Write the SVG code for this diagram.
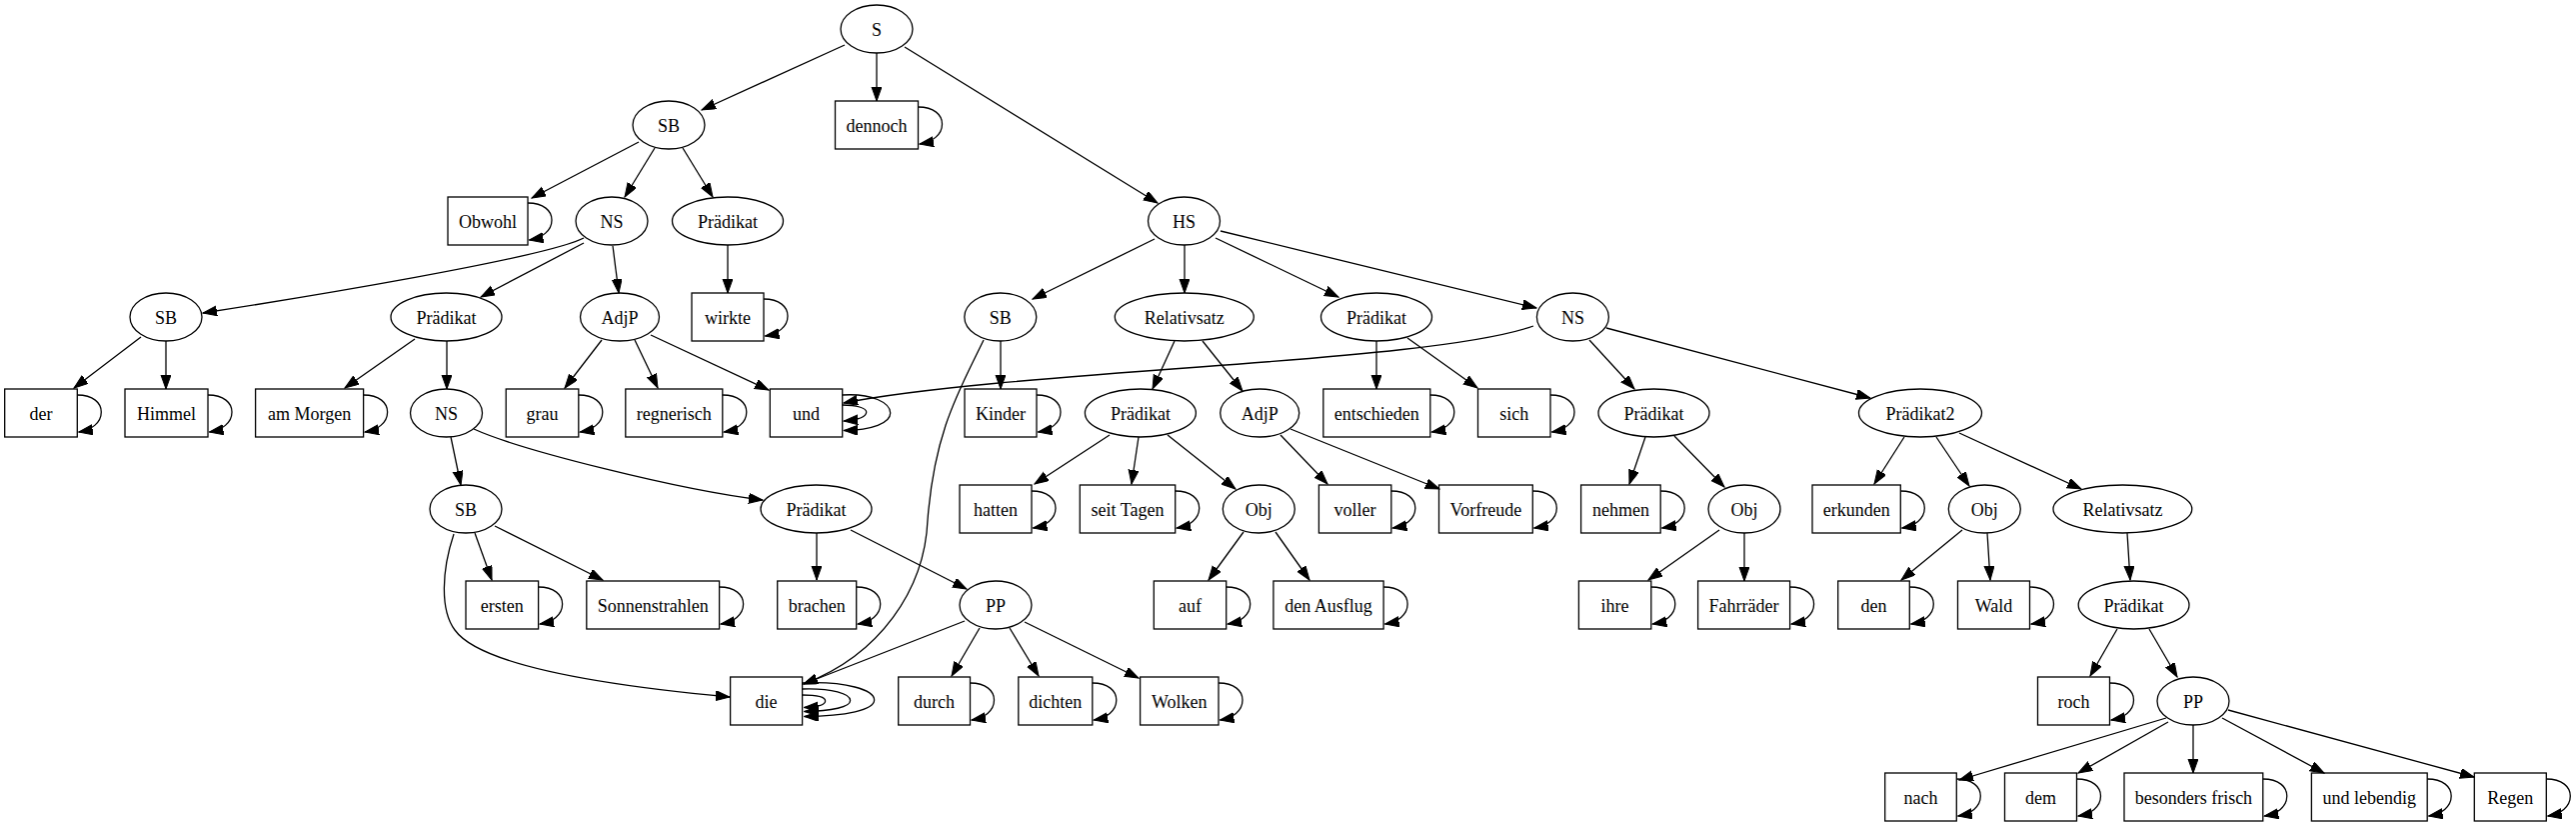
<svg xmlns="http://www.w3.org/2000/svg" width="2577" height="827" viewBox="0 0 2577 827">
<style>
.n ellipse,.n rect{fill:none;stroke:#000;stroke-width:1.3}
text{font-family:"Liberation Serif","Times New Roman",serif;font-size:18px;text-anchor:middle;fill:#000}
#edges path{fill:none;stroke:#000;stroke-width:1.3;marker-end:url(#ah)}
</style>
<defs>
<marker id="ah" markerUnits="userSpaceOnUse" markerWidth="15" markerHeight="11" refX="14" refY="5" orient="auto"><path d="M0,0 L14,5 L0,10 z" fill="#000" stroke="#000" stroke-width="1"/></marker>
</defs>
<rect width="2577" height="827" fill="#fff"/>
<g id="edges">
<path d="M845,45 L702,110"/>
<path d="M877,53 L877,101"/>
<path d="M905,47 L1158,203"/>
<path d="M639,142 L532,198"/>
<path d="M655,148 L625,197"/>
<path d="M683,148 L713,197"/>
<path d="M584,238 C545,258 300,298 203,313"/>
<path d="M584,243 L481,297"/>
<path d="M613,246 L619,293"/>
<path d="M728,245 L728,293"/>
<path d="M1155,239 L1033,299"/>
<path d="M1185,245 L1185,293"/>
<path d="M1216,238 L1339,297"/>
<path d="M1221,231 L1537,308"/>
<path d="M141,337 L74,388"/>
<path d="M166,341 L166,389"/>
<path d="M415,339 L345,388"/>
<path d="M447,341 L447,389"/>
<path d="M602,340 L565,388"/>
<path d="M635,340 L658,388"/>
<path d="M651,335 L769,390"/>
<path d="M1001,341 L1001,389"/>
<path d="M984,340 C960,390 935,430 928,520 C925,590 880,655 804,684"/>
<path d="M1175,341 L1153,389"/>
<path d="M1203,341 L1243,391"/>
<path d="M1377,341 L1377,389"/>
<path d="M1408,338 L1478,388"/>
<path d="M1534,326 C1480,345 1350,356 1200,367 C1050,378 920,388 844,403"/>
<path d="M1590,340 L1635,389"/>
<path d="M1607,328 L1871,398"/>
<path d="M451,437 L461,485"/>
<path d="M474,429 C520,450 680,490 763,500"/>
<path d="M1110,435 L1035,484"/>
<path d="M1139,437 L1132,484"/>
<path d="M1168,435 L1236,489"/>
<path d="M1281,435 L1328,484"/>
<path d="M1291,429 L1440,489"/>
<path d="M1646,437 L1630,484"/>
<path d="M1675,436 L1725,487"/>
<path d="M1905,437 L1875,484"/>
<path d="M1937,437 L1970,486"/>
<path d="M1960,433 L2082,489"/>
<path d="M475,533 L492,580"/>
<path d="M495,526 L603,580"/>
<path d="M454,534 C442,570 440,610 455,630 C480,665 600,685 730,697"/>
<path d="M817,533 L817,580"/>
<path d="M851,530 L967,589"/>
<path d="M1244,532 L1209,580"/>
<path d="M1276,532 L1310,580"/>
<path d="M1720,530 L1649,580"/>
<path d="M1745,533 L1745,581"/>
<path d="M1963,530 L1902,580"/>
<path d="M1988,533 L1991,580"/>
<path d="M2128,533 L2131,580"/>
<path d="M965,621 L804,684"/>
<path d="M980,628 L952,676"/>
<path d="M1010,628 L1039,676"/>
<path d="M1025,622 L1139,678"/>
<path d="M2118,629 L2091,676"/>
<path d="M2150,629 L2178,677"/>
<path d="M2167,718 L1960,780"/>
<path d="M2169,722 L2079,773"/>
<path d="M2194,725 L2194,773"/>
<path d="M2223,718 L2325,773"/>
<path d="M2229,710 L2475,777"/>
<!-- self loops -->
<path d="M528,203 C544,203 552,211 552,220 C552,231 542,238 529.5,240"/>
<path d="M918.5,107 C934.5,107 942.5,115 942.5,124 C942.5,135 932.5,142 920,144"/>
<path d="M764,299 C780,299 788,307 788,316 C788,327 778,334 765.5,336"/>
<path d="M77.3,395 C93.3,395 101.3,403 101.3,412 C101.3,423 91.3,430 78.8,432"/>
<path d="M208,395 C224,395 232,403 232,412 C232,423 222,430 209.5,432"/>
<path d="M363.6,395 C379.6,395 387.6,403 387.6,412 C387.6,423 377.6,430 365.1,432"/>
<path d="M578.8,395 C594.8,395 602.8,403 602.8,412 C602.8,423 592.8,430 580.3,432"/>
<path d="M722.8,395 C738.8,395 746.8,403 746.8,412 C746.8,423 736.8,430 724.3,432"/>
<path d="M842.7,405 C856.7,405 866.7,408 866.7,412 C866.7,417 856.7,420 844.2,421"/>
<path d="M842.7,395 C872.7,393 890.7,403 890.7,413 C890.7,423 872.7,430 844.2,430.5"/>
<path d="M1037,395 C1053,395 1061,403 1061,412 C1061,423 1051,430 1038.5,432"/>
<path d="M1430.8,395 C1446.8,395 1454.8,403 1454.8,412 C1454.8,423 1444.8,430 1432.3,432"/>
<path d="M1551,395 C1567,395 1575,403 1575,412 C1575,423 1565,430 1552.5,432"/>
<path d="M1032,491 C1048,491 1056,499 1056,508 C1056,519 1046,526 1033.5,528"/>
<path d="M1175.7,491 C1191.7,491 1199.7,499 1199.7,508 C1199.7,519 1189.7,526 1177.2,528"/>
<path d="M1391.8,491 C1407.8,491 1415.8,499 1415.8,508 C1415.8,519 1405.8,526 1393.3,528"/>
<path d="M1533.3,491 C1549.3,491 1557.3,499 1557.3,508 C1557.3,519 1547.3,526 1534.8,528"/>
<path d="M1661.2,491 C1677.2,491 1685.2,499 1685.2,508 C1685.2,519 1675.2,526 1662.7,528"/>
<path d="M1901.3,491 C1917.3,491 1925.3,499 1925.3,508 C1925.3,519 1915.3,526 1902.8,528"/>
<path d="M538.6,587 C554.6,587 562.6,595 562.6,604 C562.6,615 552.6,622 540.1,624"/>
<path d="M719.6,587 C735.6,587 743.6,595 743.6,604 C743.6,615 733.6,622 721.1,624"/>
<path d="M856.7,587 C872.7,587 880.7,595 880.7,604 C880.7,615 870.7,622 858.2,624"/>
<path d="M1226.7,587 C1242.7,587 1250.7,595 1250.7,604 C1250.7,615 1240.7,622 1228.2,624"/>
<path d="M1384.1,587 C1400.1,587 1408.1,595 1408.1,604 C1408.1,615 1398.1,622 1385.6,624"/>
<path d="M1651.8,587 C1667.8,587 1675.8,595 1675.8,604 C1675.8,615 1665.8,622 1653.3,624"/>
<path d="M1790.6,587 C1806.6,587 1814.6,595 1814.6,604 C1814.6,615 1804.6,622 1792.1,624"/>
<path d="M1910.3,587 C1926.3,587 1934.3,595 1934.3,604 C1934.3,615 1924.3,622 1911.8,624"/>
<path d="M2030.5,587 C2046.5,587 2054.5,595 2054.5,604 C2054.5,615 2044.5,622 2032,624"/>
<path d="M802.6,695 C816.6,695 825.6,697 825.6,701 C825.6,705 816.6,707 804.6,707.5"/>
<path d="M802.6,689 C832.6,688 850.6,694 850.6,700.5 C850.6,707 832.6,711 804.6,711.5"/>
<path d="M802.6,683 C846.6,681 874.6,690 874.6,700 C874.6,710 846.6,716 804.6,716.5"/>
<path d="M970.5,683 C986.5,683 994.5,691 994.5,700 C994.5,711 984.5,718 972,720"/>
<path d="M1092.8,683 C1108.8,683 1116.8,691 1116.8,700 C1116.8,711 1106.8,718 1094.3,720"/>
<path d="M1219,683 C1235,683 1243,691 1243,700 C1243,711 1233,718 1220.5,720"/>
<path d="M2110.5,683 C2126.5,683 2134.5,691 2134.5,700 C2134.5,711 2124.5,718 2112,720"/>
<path d="M1957.3,779 C1973.3,779 1981.3,787 1981.3,796 C1981.3,807 1971.3,814 1958.8,816"/>
<path d="M2077.5,779 C2093.5,779 2101.5,787 2101.5,796 C2101.5,807 2091.5,814 2079,816"/>
<path d="M2263.8,779 C2279.8,779 2287.8,787 2287.8,796 C2287.8,807 2277.8,814 2265.3,816"/>
<path d="M2428.2,779 C2444.2,779 2452.2,787 2452.2,796 C2452.2,807 2442.2,814 2429.7,816"/>
<path d="M2547.3,779 C2563.3,779 2571.3,787 2571.3,796 C2571.3,807 2561.3,814 2548.8,816"/>
</g>
<g id="S" class="n"><ellipse cx="877" cy="29" rx="36" ry="24"/><text x="877" y="35.5">S</text></g>
<g id="SB1" class="n"><ellipse cx="669" cy="125" rx="36" ry="24"/><text x="669" y="131.5">SB</text></g>
<g id="dennoch" class="n"><rect x="835.5" y="101" width="83" height="48"/><text x="877" y="131.5">dennoch</text></g>
<g id="Obwohl" class="n"><rect x="448" y="197" width="80" height="48"/><text x="488" y="227.5">Obwohl</text></g>
<g id="NS1" class="n"><ellipse cx="612" cy="221" rx="36" ry="24"/><text x="612" y="227.5">NS</text></g>
<g id="Praedikat1" class="n"><ellipse cx="728" cy="221" rx="55.5" ry="24"/><text x="728" y="227.5">Prädikat</text></g>
<g id="HS" class="n"><ellipse cx="1184.5" cy="221" rx="36" ry="24"/><text x="1184.5" y="227.5">HS</text></g>
<g id="SB2" class="n"><ellipse cx="166" cy="317" rx="36" ry="24"/><text x="166" y="323.5">SB</text></g>
<g id="Praedikat2a" class="n"><ellipse cx="446.5" cy="317" rx="55.5" ry="24"/><text x="446.5" y="323.5">Prädikat</text></g>
<g id="AdjP1" class="n"><ellipse cx="620" cy="317" rx="39.5" ry="24"/><text x="620" y="323.5">AdjP</text></g>
<g id="wirkte" class="n"><rect x="692" y="293" width="72" height="48"/><text x="728" y="323.5">wirkte</text></g>
<g id="SB3" class="n"><ellipse cx="1000.8" cy="317" rx="36" ry="24"/><text x="1000.8" y="323.5">SB</text></g>
<g id="Relativsatz1" class="n"><ellipse cx="1184.8" cy="317" rx="69.5" ry="24"/><text x="1184.8" y="323.5">Relativsatz</text></g>
<g id="Praedikat3" class="n"><ellipse cx="1377" cy="317" rx="55.5" ry="24"/><text x="1377" y="323.5">Prädikat</text></g>
<g id="NS2" class="n"><ellipse cx="1573.4" cy="317" rx="36" ry="24"/><text x="1573.4" y="323.5">NS</text></g>
<g id="der" class="n"><rect x="4.7" y="389" width="72.6" height="48"/><text x="41" y="419.5">der</text></g>
<g id="Himmel" class="n"><rect x="125" y="389" width="83" height="48"/><text x="166.5" y="419.5">Himmel</text></g>
<g id="amMorgen" class="n"><rect x="255.6" y="389" width="108" height="48"/><text x="309.6" y="419.5">am Morgen</text></g>
<g id="NS3" class="n"><ellipse cx="446.5" cy="413" rx="36" ry="24"/><text x="446.5" y="419.5">NS</text></g>
<g id="grau" class="n"><rect x="506.2" y="389" width="72.6" height="48"/><text x="542.5" y="419.5">grau</text></g>
<g id="regnerisch" class="n"><rect x="625.8" y="389" width="97" height="48"/><text x="674.3" y="419.5">regnerisch</text></g>
<g id="und" class="n"><rect x="770.3" y="389" width="72.4" height="48"/><text x="806.5" y="419.5">und</text></g>
<g id="Kinder" class="n"><rect x="965" y="389" width="72" height="48"/><text x="1001" y="419.5">Kinder</text></g>
<g id="Praedikat4" class="n"><ellipse cx="1140.9" cy="413" rx="55.5" ry="24"/><text x="1140.9" y="419.5">Prädikat</text></g>
<g id="AdjP2" class="n"><ellipse cx="1260.2" cy="413" rx="39.5" ry="24"/><text x="1260.2" y="419.5">AdjP</text></g>
<g id="entschieden" class="n"><rect x="1323.8" y="389" width="107" height="48"/><text x="1377.3" y="419.5">entschieden</text></g>
<g id="sich" class="n"><rect x="1478.5" y="389" width="72.5" height="48"/><text x="1514.7" y="419.5">sich</text></g>
<g id="Praedikat5" class="n"><ellipse cx="1654.5" cy="413" rx="55.5" ry="24"/><text x="1654.5" y="419.5">Prädikat</text></g>
<g id="Praedikat2" class="n"><ellipse cx="1921" cy="413" rx="61.5" ry="24"/><text x="1921" y="419.5">Prädikat2</text></g>
<g id="SB4" class="n"><ellipse cx="466" cy="509" rx="36" ry="24"/><text x="466" y="515.5">SB</text></g>
<g id="Praedikat6" class="n"><ellipse cx="816.5" cy="509" rx="55.5" ry="24"/><text x="816.5" y="515.5">Prädikat</text></g>
<g id="hatten" class="n"><rect x="960" y="485" width="72" height="48"/><text x="996" y="515.5">hatten</text></g>
<g id="seitTagen" class="n"><rect x="1080.3" y="485" width="95.4" height="48"/><text x="1128" y="515.5">seit Tagen</text></g>
<g id="Obj1" class="n"><ellipse cx="1259.3" cy="509" rx="36" ry="24"/><text x="1259.3" y="515.5">Obj</text></g>
<g id="voller" class="n"><rect x="1319.4" y="485" width="72.4" height="48"/><text x="1355.6" y="515.5">voller</text></g>
<g id="Vorfreude" class="n"><rect x="1439.5" y="485" width="93.8" height="48"/><text x="1486.4" y="515.5">Vorfreude</text></g>
<g id="nehmen" class="n"><rect x="1581.6" y="485" width="79.6" height="48"/><text x="1621.4" y="515.5">nehmen</text></g>
<g id="Obj2" class="n"><ellipse cx="1745" cy="509" rx="36" ry="24"/><text x="1745" y="515.5">Obj</text></g>
<g id="erkunden" class="n"><rect x="1813" y="485" width="88.3" height="48"/><text x="1857.2" y="515.5">erkunden</text></g>
<g id="Obj3" class="n"><ellipse cx="1985.3" cy="509" rx="36" ry="24"/><text x="1985.3" y="515.5">Obj</text></g>
<g id="Relativsatz2" class="n"><ellipse cx="2123.4" cy="509" rx="69.4" ry="24"/><text x="2123.4" y="515.5">Relativsatz</text></g>
<g id="ersten" class="n"><rect x="466" y="581" width="72.6" height="48"/><text x="502.3" y="611.5">ersten</text></g>
<g id="Sonnenstrahlen" class="n"><rect x="586.8" y="581" width="132.8" height="48"/><text x="653.2" y="611.5">Sonnenstrahlen</text></g>
<g id="brachen" class="n"><rect x="777.7" y="581" width="79" height="48"/><text x="817.2" y="611.5">brachen</text></g>
<g id="PP1" class="n"><ellipse cx="996" cy="605" rx="36" ry="24"/><text x="996" y="611.5">PP</text></g>
<g id="auf" class="n"><rect x="1154.3" y="581" width="72.4" height="48"/><text x="1190.5" y="611.5">auf</text></g>
<g id="denAusflug" class="n"><rect x="1273.9" y="581" width="110.2" height="48"/><text x="1329" y="611.5">den Ausflug</text></g>
<g id="ihre" class="n"><rect x="1579.4" y="581" width="72.4" height="48"/><text x="1615.6" y="611.5">ihre</text></g>
<g id="Fahrraeder" class="n"><rect x="1698.6" y="581" width="92" height="48"/><text x="1744.6" y="611.5">Fahrräder</text></g>
<g id="den" class="n"><rect x="1838.7" y="581" width="71.6" height="48"/><text x="1874.5" y="611.5">den</text></g>
<g id="Wald" class="n"><rect x="1958.5" y="581" width="72" height="48"/><text x="1994.5" y="611.5">Wald</text></g>
<g id="Praedikat7" class="n"><ellipse cx="2134.6" cy="605" rx="55.4" ry="24"/><text x="2134.6" y="611.5">Prädikat</text></g>
<g id="die" class="n"><rect x="730.6" y="677" width="72" height="48"/><text x="766.6" y="707.5">die</text></g>
<g id="durch" class="n"><rect x="898.7" y="677" width="71.8" height="48"/><text x="934.6" y="707.5">durch</text></g>
<g id="dichten" class="n"><rect x="1018.8" y="677" width="74" height="48"/><text x="1055.8" y="707.5">dichten</text></g>
<g id="Wolken" class="n"><rect x="1140.6" y="677" width="78.4" height="48"/><text x="1179.8" y="707.5">Wolken</text></g>
<g id="roch" class="n"><rect x="2038.5" y="677" width="72" height="48"/><text x="2074.5" y="707.5">roch</text></g>
<g id="PP2" class="n"><ellipse cx="2194" cy="701" rx="36" ry="24"/><text x="2194" y="707.5">PP</text></g>
<g id="nach" class="n"><rect x="1885.7" y="773" width="71.6" height="48"/><text x="1921.5" y="803.5">nach</text></g>
<g id="dem" class="n"><rect x="2005.5" y="773" width="72" height="48"/><text x="2041.5" y="803.5">dem</text></g>
<g id="besondersFrisch" class="n"><rect x="2125" y="773" width="138.8" height="48"/><text x="2194.4" y="803.5">besonders frisch</text></g>
<g id="undLebendig" class="n"><rect x="2312.4" y="773" width="115.8" height="48"/><text x="2370.3" y="803.5">und lebendig</text></g>
<g id="Regen" class="n"><rect x="2475.3" y="773" width="72" height="48"/><text x="2511.3" y="803.5">Regen</text></g>
</svg>
